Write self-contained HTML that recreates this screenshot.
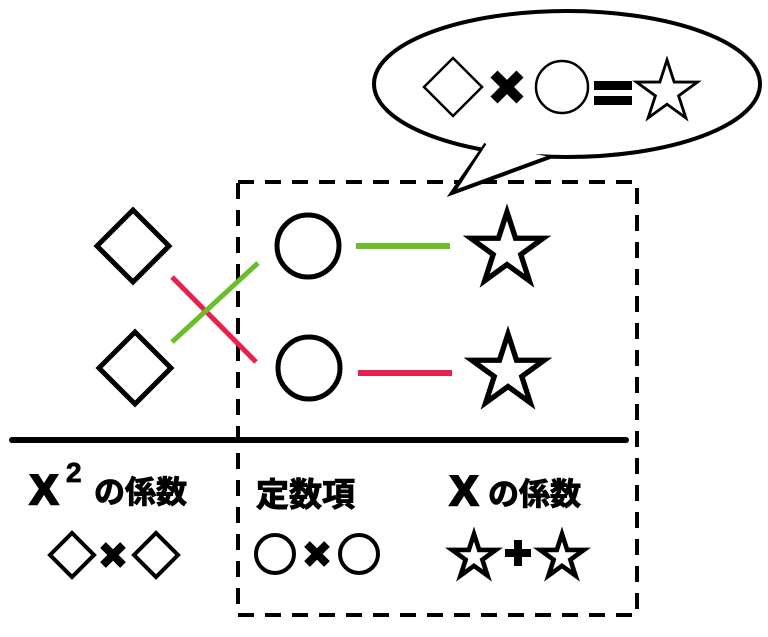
<!DOCTYPE html>
<html><head><meta charset="utf-8"><style>
html,body{margin:0;padding:0;background:#fff;}
svg{display:block;}
text{font-family:"Liberation Sans","Noto Sans CJK JP",sans-serif;font-weight:bold;fill:#000;}
</style></head><body>
<svg width="768" height="637" viewBox="0 0 768 637" xmlns="http://www.w3.org/2000/svg">
<defs>
<path id="star" d="M0,-1 L0.2245,-0.309 L0.951,-0.309 L0.363,0.118 L0.588,0.809 L0,0.382 L-0.588,0.809 L-0.363,0.118 L-0.951,-0.309 L-0.2245,-0.309 Z"/>
</defs>
<rect x="238" y="182" width="399" height="433" fill="none" stroke="#000" stroke-width="4" stroke-dasharray="16,11"/>
<ellipse cx="567" cy="84" rx="193" ry="73" fill="#fff" stroke="#000" stroke-width="4"/>
<path d="M486,144 L452,193 L550,157" fill="#fff" stroke="#000" stroke-width="4"/>
<path d="M489,140 L462,182 L546,150 Z" fill="#fff"/>
<path d="M424,87 L453,58 L482,87 L453,116 Z" fill="none" stroke="#000" stroke-width="2.5"/>
<path d="M494,74 L520,100 M520,74 L494,100" stroke="#000" stroke-width="10"/>
<circle cx="562" cy="87" r="26" fill="none" stroke="#000" stroke-width="2.5"/>
<rect x="594" y="81" width="38" height="9"/><rect x="594" y="96" width="38" height="9"/>
<use href="#star" transform="translate(667,92) scale(32)" fill="#fff" stroke="#000" stroke-width="0.09"/>
<path d="M97,246 L133,210 L169,246 L133,282 Z" fill="none" stroke="#000" stroke-width="5"/>
<path d="M99,368 L135,332 L171,368 L135,404 Z" fill="none" stroke="#000" stroke-width="5"/>
<line x1="172" y1="277" x2="256" y2="362" stroke="#e8204f" stroke-width="5"/>
<line x1="172" y1="342" x2="258" y2="263" stroke="#6bbd2b" stroke-width="5"/>
<circle cx="308" cy="246" r="31" fill="none" stroke="#000" stroke-width="5"/>
<circle cx="309" cy="368" r="31" fill="none" stroke="#000" stroke-width="5"/>
<line x1="356" y1="246" x2="450" y2="246" stroke="#6bbd2b" stroke-width="6"/>
<line x1="358" y1="373" x2="452" y2="373" stroke="#e8204f" stroke-width="6"/>
<use href="#star" transform="translate(507,250) scale(38)" fill="#fff" stroke="#000" stroke-width="0.14"/>
<use href="#star" transform="translate(508,372) scale(38)" fill="#fff" stroke="#000" stroke-width="0.14"/>
<line x1="12" y1="440" x2="626" y2="440" stroke="#000" stroke-width="6" stroke-linecap="round"/>
<text x="30" y="504" font-size="42" stroke="#000" stroke-width="2.5">X</text>
<text x="66" y="482" font-size="28" stroke="#000" stroke-width="0.8">2</text>
<text x="94" y="503" font-size="31" stroke="#000" stroke-width="1">の係数</text>
<text x="256" y="506" font-size="33" stroke="#000" stroke-width="1">定数項</text>
<text x="450" y="505" font-size="42" stroke="#000" stroke-width="2.5">X</text>
<text x="488" y="505" font-size="31" stroke="#000" stroke-width="1">の係数</text>
<path d="M50,555 L72,533 L94,555 L72,577 Z" fill="none" stroke="#000" stroke-width="4"/>
<path d="M103,545 L123,565 M123,545 L103,565" stroke="#000" stroke-width="8"/>
<path d="M134,555 L156,533 L178,555 L156,577 Z" fill="none" stroke="#000" stroke-width="4"/>
<circle cx="275" cy="554" r="19" fill="none" stroke="#000" stroke-width="4"/>
<path d="M307,544 L327,564 M327,544 L307,564" stroke="#000" stroke-width="8"/>
<circle cx="359" cy="554" r="19" fill="none" stroke="#000" stroke-width="4"/>
<use href="#star" transform="translate(474,557) scale(23)" fill="#fff" stroke="#000" stroke-width="0.2"/>
<rect x="505" y="549" width="26" height="8"/><rect x="514" y="540" width="8" height="26"/>
<use href="#star" transform="translate(562,557) scale(23)" fill="#fff" stroke="#000" stroke-width="0.2"/>
</svg>
</body></html>
